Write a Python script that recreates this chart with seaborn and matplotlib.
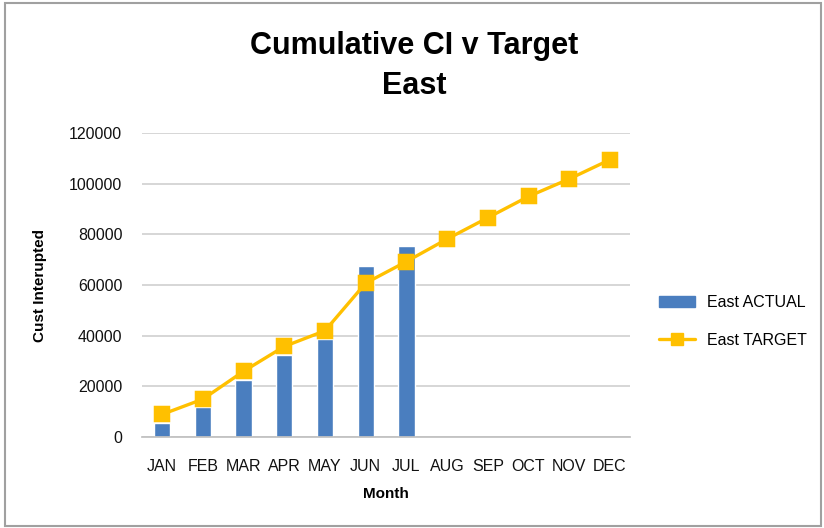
import matplotlib
matplotlib.use("Agg")
import matplotlib.pyplot as plt
from matplotlib.patches import Rectangle
from matplotlib.lines import Line2D
import pandas as pd
import seaborn as sns

months = ["JAN", "FEB", "MAR", "APR", "MAY", "JUN", "JUL", "AUG", "SEP", "OCT", "NOV", "DEC"]
actual_months = ["JAN", "FEB", "MAR", "APR", "MAY", "JUN", "JUL"]
east_actual = [5500, 11800, 22600, 32500, 38800, 67600, 75600]
east_target = [9000, 15000, 26000, 35800, 42000, 60800, 69300, 78200, 86600, 95000, 101900, 109500]

BLUE = "#4a7ebf"
GOLD = "#ffc000"

sns.set_theme(style="white")
plt.rcParams["font.family"] = ["Liberation Sans", "DejaVu Sans"]
plt.rcParams["text.color"] = "black"
plt.rcParams["axes.labelcolor"] = "black"

fig = plt.figure(figsize=(8.24, 5.28), dpi=100)
ax = fig.add_axes([0.172, 0.172, 0.593, 0.576])

actual_df = pd.DataFrame({"month": actual_months, "value": east_actual})
target_df = pd.DataFrame({"month": months, "value": east_target})

sns.barplot(data=actual_df, x="month", y="value", order=months, color=BLUE,
            width=0.4, saturation=1, ax=ax)
sns.pointplot(data=target_df, x="month", y="value", order=months, color=GOLD,
              markers="s", markersize=10, linewidth=2.4, ax=ax)

ax.set_ylim(0, 120000)
ax.set_yticks(range(0, 120001, 20000))
ax.yaxis.grid(True, color="#d0d0d0", linewidth=1.2)
ax.set_axisbelow(True)
for side in ["left", "right", "top"]:
    ax.spines[side].set_visible(False)
ax.spines["bottom"].set_color("#c0c0c0")
ax.tick_params(axis="both", labelsize=11.5, colors="#111111", length=0)
ax.tick_params(axis="y", pad=14)
ax.tick_params(axis="x", pad=16)

ax.set_xlabel("Month", fontsize=11, fontweight="bold", labelpad=9)
ax.set_ylabel("Cust Interupted", fontsize=11, fontweight="bold", labelpad=16)

fig.text(0.503, 0.912, "Cumulative CI v Target", ha="center", va="center",
         fontsize=22, fontweight="bold")
fig.text(0.503, 0.837, "East", ha="center", va="center",
         fontsize=22, fontweight="bold")

handles = [
    Rectangle((0, 0), 1, 1, color=BLUE),
    Line2D([0], [0], color=GOLD, linewidth=2.4, marker="s", markersize=9),
]
ax.legend(handles, ["East ACTUAL", "East TARGET"], loc="center left",
          bbox_to_anchor=(1.03, 0.38), frameon=False, fontsize=11.5,
          handlelength=2.2, labelspacing=1.4)

fig.add_artist(Rectangle((0.006, 0.004), 0.99, 0.99, transform=fig.transFigure,
                         fill=False, edgecolor="#a0a0a0", linewidth=1.5))

fig.savefig("out.png", dpi=100)
